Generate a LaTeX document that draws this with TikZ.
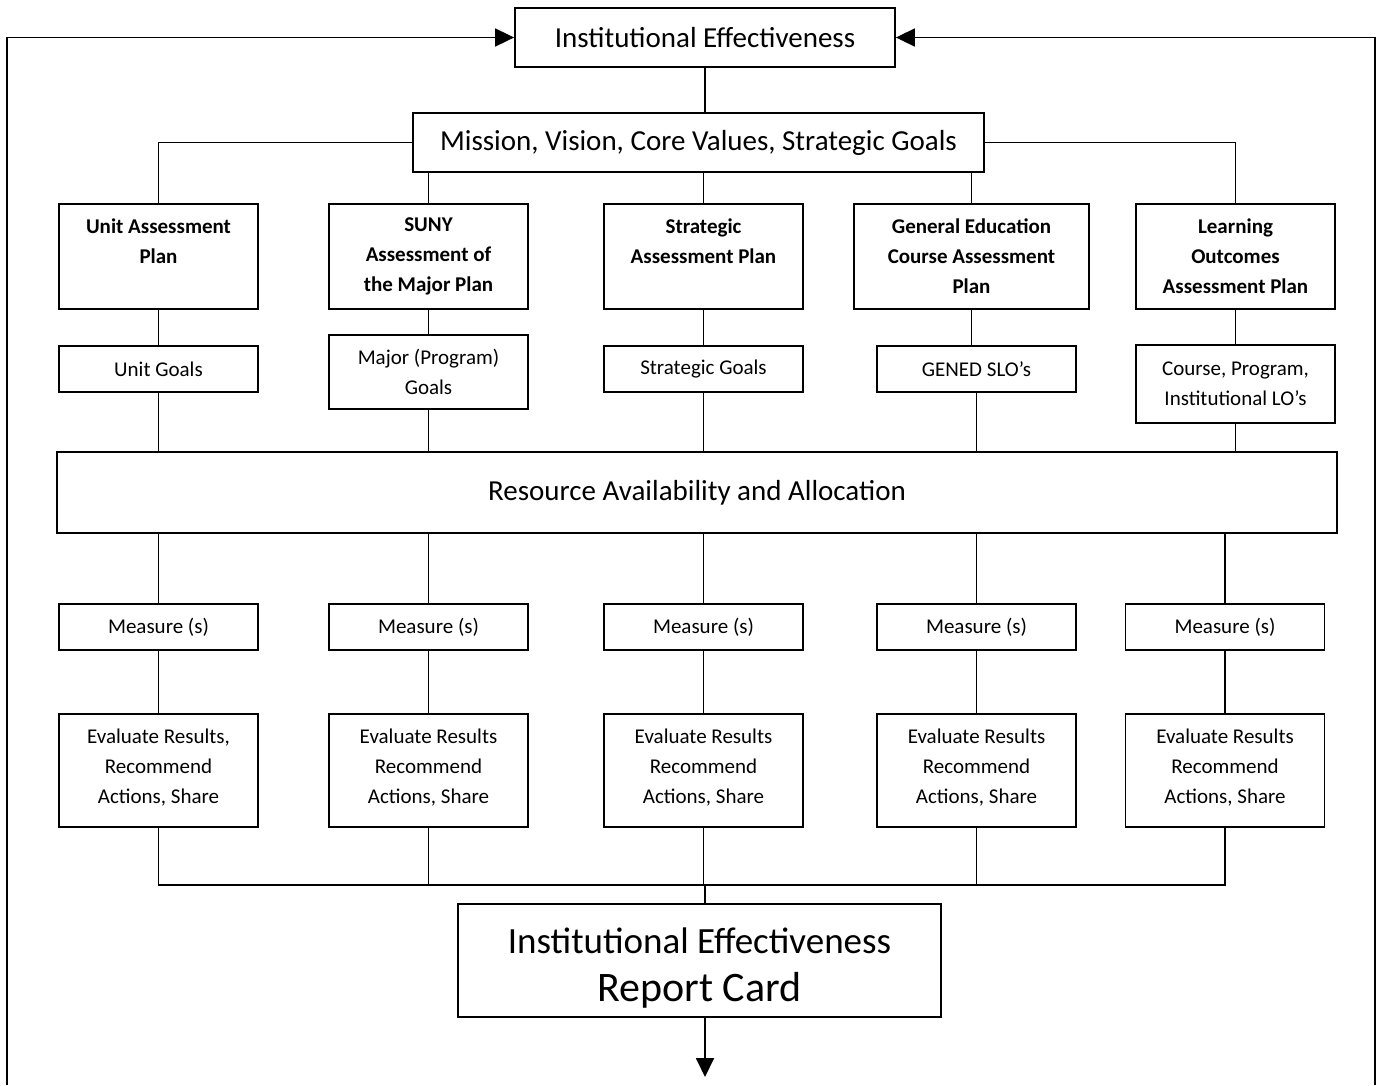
\documentclass[tikz,border=0pt]{standalone}
\usepackage{fontspec}
\setmainfont{Carlito}
\usetikzlibrary{arrows.meta, positioning}

\begin{document}
\begin{tikzpicture}[
                x=1pt, y=-1pt,
                node distance=62pt,
                every node/.style={font=\fontsize{21}{30}\selectfont},
                box/.style={rectangle, draw=black, line width=1.8pt, inner sep=0pt, align=center},
                plan/.style={box, minimum width=199pt, minimum height=105pt, font=\fontsize{21}{30}\selectfont\bfseries},
                goal/.style={box, minimum width=199pt, minimum height=46pt},
                measure/.style={box, minimum width=199pt, minimum height=46pt},
                evalbox/.style={box, minimum width=199pt, minimum height=113pt},
                bigbox/.style={box, minimum height=59pt, font=\fontsize{29}{35}\selectfont},
                line/.style={line width=1.3pt},
                arrow/.style={line width=1.8pt,-{Triangle[length=19pt,width=18pt]}}
            ]
                \useasboundingbox (0,0) rectangle (1379,1085);

                % Nodes
                \node (ie) [bigbox, minimum width=380pt] at (705,37.5) {Institutional Effectiveness};
                \node (mission) [bigbox, minimum width=571pt] at (698.5,142.5) {Mission, Vision, Core Values, Strategic Goals};

                \node (unitplan) [plan] at (158.5,256.5) {Unit Assessment\\Plan\\~};
                \node (sunyplan) [plan] at (428.5,256.5) {SUNY\\Assessment of\\the Major Plan};
                \node (stratplan) [plan] at (703.5,256.5) {Strategic\\Assessment Plan\\~};
                \node (genedplan) [plan, minimum width=235pt] at (971.5,256.5) {General Education\\Course Assessment\\Plan};
                \node (lrnplan) [plan] at (1235.5,256.5) {Learning\\Outcomes\\Assessment Plan};

                \node (unitgoal) [goal] at (158.5,369) {Unit Goals};
                \node (majorgoal) [goal, minimum height=74pt] at (428.5,372) {Major (Program)\\Goals};
                \node (stratgoal) [goal] at (703.5,369) {Strategic Goals};
                \node (genedgoal) [goal] at (976.5,369) {GENED SLO’s};
                \node (lrngoal) [goal, minimum height=78pt] at (1235.5,384) {Course, Program,\\Institutional LO’s};

                \node (resource) [bigbox, minimum width=1280pt, minimum height=81pt] at (697,492.5) {Resource Availability and Allocation};

                \node (meas1) [measure] at (158.5,627) {Measure (s)};
                \node (meas2) [measure] at (428.5,627) {Measure (s)};
                \node (meas3) [measure] at (703.5,627) {Measure (s)};
                \node (meas4) [measure] at (976.5,627) {Measure (s)};
                \node (meas5) [measure] at (1225,627) {Measure (s)};

                \node (eval1) [evalbox, below=of meas1] {Evaluate Results,\\Recommend\\Actions, Share\\[-22pt]};
                \node (eval2) [evalbox, below=of meas2] {Evaluate Results\\Recommend\\Actions, Share\\[-22pt]};
                \node (eval3) [evalbox, below=of meas3] {Evaluate Results\\Recommend\\Actions, Share\\[-22pt]};
                \node (eval4) [evalbox, below=of meas4] {Evaluate Results\\Recommend\\Actions, Share\\[-22pt]};
                \node (eval5) [evalbox, below=of meas5] {Evaluate Results\\Recommend\\Actions, Share\\[-22pt]};

                \node (report) [box, minimum width=483pt, minimum height=113pt, font=\fontsize{37}{48}\selectfont] at (699.5,960.5) {\rule{0pt}{40pt}Institutional Effectiveness\\\fontsize{42}{48}\selectfont Report Card};

                \coordinate (join) at (705,885);
                \coordinate (lbot) at (7,1085);
                \coordinate (rbot) at (1375,1085);
                \coordinate (out) at (705,1077);

                % Lines
                \draw [line] (ie) -- (ie |- mission.north);
                \draw [line] (mission.west) -| (unitplan.north);
                \draw [line] (mission.east) -| (lrnplan.north);
                \draw [line] (mission.south -| sunyplan) -- (sunyplan);
                \draw [line] (mission.south -| stratplan) -- (stratplan);
                \draw [line] (mission.south -| genedplan) -- (genedplan);

                \draw [line] (unitplan) -- (unitgoal);
                \draw [line] (sunyplan) -- (majorgoal);
                \draw [line] (stratplan) -- (stratgoal);
                \draw [line] (genedplan.south) -- (genedplan.south |- genedgoal.north);
                \draw [line] (lrnplan) -- (lrngoal);

                \draw [line] (unitgoal) -- (unitgoal |- resource.north);
                \draw [line] (majorgoal) -- (majorgoal |- resource.north);
                \draw [line] (stratgoal) -- (stratgoal |- resource.north);
                \draw [line] (genedgoal) -- (genedgoal |- resource.north);
                \draw [line] (lrngoal) -- (lrngoal |- resource.north);

                \draw [line] (resource.south -| meas1) -- (meas1);
                \draw [line] (resource.south -| meas2) -- (meas2);
                \draw [line] (resource.south -| meas3) -- (meas3);
                \draw [line] (resource.south -| meas4) -- (meas4);
                \draw [line] (resource.south -| meas5) -- (meas5);

                \draw [line] (meas1) -- (eval1);
                \draw [line] (meas2) -- (eval2);
                \draw [line] (meas3) -- (eval3);
                \draw [line] (meas4) -- (eval4);
                \draw [line] (meas5) -- (eval5);

                \draw [line] (eval1.south) -- (eval1.south |- join) -- (eval5.south |- join) -- (eval5.south);
                \draw [line] (eval2.south) -- (eval2.south |- join);
                \draw [line] (eval3.south) -- (eval3.south |- join);
                \draw [line] (eval4.south) -- (eval4.south |- join);
                \draw [line] (join) -- (join |- report.north);

                % Arrows
                \draw [arrow] (lbot) |- (ie.west);
                \draw [arrow] (rbot) |- (ie.east);
                \draw [arrow] (report.south -| out) -- (out);

            \end{tikzpicture}
\end{document}
